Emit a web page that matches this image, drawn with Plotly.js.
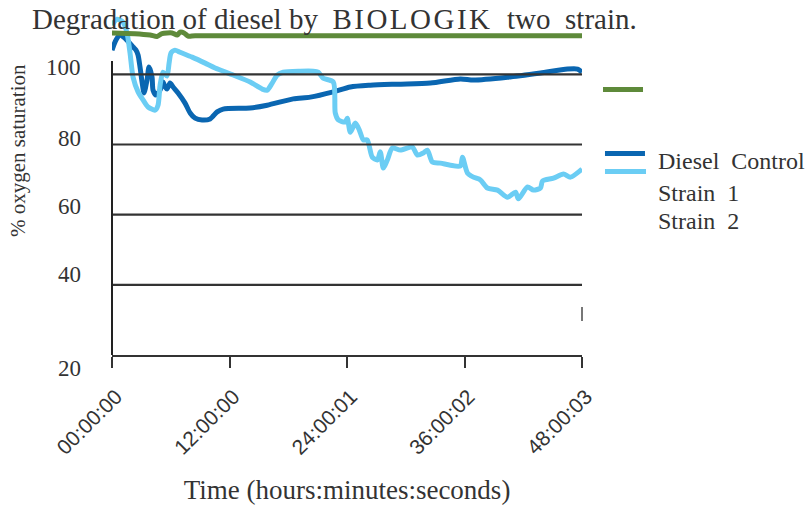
<!DOCTYPE html>
<html>
<head>
<meta charset="utf-8">
<script src="https://cdn.plot.ly/plotly-3.0.1.min.js"></script>
<style>
  html, body { margin: 0; padding: 0; background: #ffffff; }
  #chart { width: 807px; height: 505px; }
</style>
</head>
<body>
<div id="chart"></div>
<script>
// ---- data (time in hours, value in % oxygen saturation) ----
const tickHours = [0, 12, 24, 36, 48];
const tickLabels = ["00:00:00", "12:00:00", "24:00:01", "36:00:02", "48:00:03"];
const yTickValues = [20, 40, 60, 80, 100];

const controlHours = [0, 0.41, 0.82, 1.33, 2.15, 2.45, 2.66, 2.86, 3.07, 3.27, 3.58, 3.78, 4.09, 4.19, 4.50, 4.91, 5.21, 5.42, 5.62, 5.93, 6.24, 6.75, 7.46, 7.98, 8.49, 9.20, 10.02, 10.74, 11.35, 14.11, 15.85, 18.51, 20.25, 22.60, 24.34, 26.38, 29.14, 32.52, 35.58, 36.91, 40.39, 43.76, 46.52, 47.55, 48.0];
const controlValues = [106.9, 109.8, 111.2, 110.3, 107.8, 106.9, 105.5, 102.1, 97.8, 94.7, 98.4, 102.1, 99.2, 95.5, 94.1, 95.5, 97.8, 96.4, 95.8, 97.5, 96.4, 94.7, 91.8, 89.0, 87.5, 87.0, 87.3, 89.3, 90.1, 90.4, 91.2, 93.0, 93.5, 95.0, 96.4, 96.9, 97.2, 97.5, 98.7, 98.4, 99.2, 100.4, 101.5, 101.5, 100.6];

const strain1Hours = [0, 0.51, 1.12, 1.53, 1.84, 2.15, 2.66, 3.17, 3.68, 4.40, 4.70, 4.91, 5.21, 5.62, 5.83, 6.03, 6.44, 6.95, 8.18, 9.51, 10.53, 12.37, 14.11, 15.34, 15.85, 16.36, 16.87, 17.48, 19.22, 20.55, 21.06, 21.57, 22.60, 22.80, 23.11, 23.82, 24.03, 24.34, 24.85, 25.26, 25.67, 26.07, 26.58, 27.10, 27.40, 27.71, 28.12, 28.63, 29.45, 30.67, 31.19, 31.80, 32.21, 32.72, 33.54, 34.56, 35.58, 35.79, 36.30, 36.91, 37.63, 38.34, 39.37, 40.39, 41.21, 41.51, 42.43, 43.05, 43.76, 43.97, 45.09, 46.11, 46.83, 48.0];
const strain1Values = [114.0, 115.7, 114.9, 111.8, 106.1, 99.2, 95.0, 92.7, 90.7, 89.8, 91.2, 96.9, 100.6, 99.5, 103.2, 106.1, 106.9, 106.3, 104.9, 103.2, 101.8, 99.8, 97.8, 95.8, 95.5, 97.5, 99.8, 100.6, 100.9, 100.9, 100.6, 98.9, 97.8, 89.0, 87.0, 86.4, 87.5, 83.5, 86.1, 84.1, 81.3, 81.3, 76.4, 75.6, 77.9, 73.3, 75.6, 79.0, 78.4, 79.3, 77.0, 77.6, 78.4, 75.0, 74.7, 74.1, 73.9, 76.4, 71.9, 70.7, 69.9, 67.6, 67.0, 65.0, 66.4, 64.5, 67.9, 67.0, 67.6, 69.6, 70.4, 71.6, 70.7, 73.0];

const strain2Hours = [0, 2.35, 3.89, 4.60, 5.11, 6.14, 6.65, 6.95, 7.36, 7.77, 8.49, 48.0];
const strain2Values = [111.8, 111.6, 111.2, 110.8, 111.6, 111.8, 111.2, 112.0, 111.8, 110.9, 111.0, 111.0];

const seriesNames = ["Diesel Control", "Strain 1", "Strain 2"];
const legendLabels = ["Diesel\u00a0 Control", "Strain\u00a0 1", "Strain\u00a0 2"];

// ---- styling ----
const colDark = "#0a66b1";
const colLight = "#6bcdf4";
const colGreen = "#5e8a3a";
const ink = "#333333";
const serif = "Liberation Serif, Times New Roman, serif";

const traces = [
  {x: controlHours, y: controlValues, name: seriesNames[0], type: "scatter", mode: "lines",
   line: {color: colDark, width: 5, shape: "spline", smoothing: 0.7}},
  {x: strain1Hours, y: strain1Values, name: seriesNames[1], type: "scatter", mode: "lines",
   line: {color: colLight, width: 5, shape: "spline", smoothing: 0.7}},
  {x: strain2Hours, y: strain2Values, name: seriesNames[2], type: "scatter", mode: "lines",
   line: {color: colGreen, width: 5, shape: "spline", smoothing: 0.7}}
];

// y tick labels drawn beside the axis (their vertical offsets, in pixels)
const yLabelShift = [-13, 10, 8, 6, 7];
const annotations = yTickValues.map((v, i) => ({
  xref: "paper", yref: "y", x: 0, y: v, xanchor: "right", yanchor: "middle",
  xshift: -29, yshift: yLabelShift[i], showarrow: false, text: String(v),
  font: {family: serif, size: 23, color: ink}
}));

// y axis title
annotations.push({
  xref: "paper", yref: "paper", x: -0.2, y: 0.598, xanchor: "center", yanchor: "middle",
  textangle: -90, showarrow: false, text: "% oxygen saturation",
  font: {family: serif, size: 21, color: ink}
});

// legend texts
const legendTextY = [0.5689, 0.4751, 0.3930];
legendLabels.forEach((t, i) => annotations.push({
  xref: "paper", yref: "paper", x: 1.1574, y: legendTextY[i], xanchor: "left", yanchor: "middle",
  showarrow: false, text: t, font: {family: serif, size: 24, color: ink}
}));

const shapes = [];
// horizontal rules
[40, 60, 80, 100].forEach(v => shapes.push({
  type: "line", xref: "paper", yref: "y", x0: 0, x1: 1, y0: v, y1: v,
  line: {color: ink, width: 2.2}, layer: "above"
}));
// vertical axis rule
shapes.push({type: "line", xref: "paper", yref: "y", x0: 0, x1: 0, y0: 20, y1: 103.8,
  line: {color: "#222", width: 2}, layer: "above"});
// small right-hand mark
shapes.push({type: "line", xref: "paper", yref: "y", x0: 1, x1: 1, y0: 29.7, y1: 33.7,
  line: {color: "#777", width: 2}, layer: "above"});
// legend line samples
shapes.push({type: "line", xref: "paper", yref: "paper", x0: 1.0447, x1: 1.1298, y0: 0.7786, y1: 0.7786,
  line: {color: colGreen, width: 5}});
shapes.push({type: "line", xref: "paper", yref: "paper", x0: 1.0489, x1: 1.1340, y0: 0.5909, y1: 0.5909,
  line: {color: colDark, width: 5}});
shapes.push({type: "line", xref: "paper", yref: "paper", x0: 1.0489, x1: 1.1362, y0: 0.5381, y1: 0.5381,
  line: {color: colLight, width: 5}});

const layout = {
  width: 807, height: 505,
  margin: {l: 112, r: 225, t: 14, b: 150, pad: 0},
  paper_bgcolor: "#ffffff", plot_bgcolor: "#ffffff",
  showlegend: false,
  title: {
    text: "Degradation of diesel by\u00a0 <span style=\"letter-spacing:2.5px\">BIOLOGIK</span>\u00a0 two\u00a0 strain.",
    font: {family: serif, size: 29, color: ink},
    xref: "container", x: 32 / 807, xanchor: "left",
    yref: "container", y: 1 - 19 / 505, yanchor: "middle"
  },
  xaxis: {
    range: [0, 48], tickmode: "array", tickvals: tickHours, ticktext: tickLabels,
    tickangle: -45, ticks: "outside", ticklen: 11, tickwidth: 2, tickcolor: ink,
    showline: true, linecolor: ink, linewidth: 2, showgrid: false, zeroline: false,
    tickfont: {family: "Liberation Sans, Arial, sans-serif", size: 21, color: ink},
    ticklabelstandoff: 8, ticklabelshift: 4,
    title: {text: "Time (hours:minutes:seconds)", font: {family: serif, size: 27, color: ink}, standoff: 27}
  },
  yaxis: {
    range: [20, 117.2], showgrid: false, zeroline: false, showline: false,
    showticklabels: false, ticks: ""
  },
  annotations: annotations,
  shapes: shapes
};

Plotly.newPlot("chart", traces, layout, {displayModeBar: false, staticPlot: true});
</script>
</body>
</html>
